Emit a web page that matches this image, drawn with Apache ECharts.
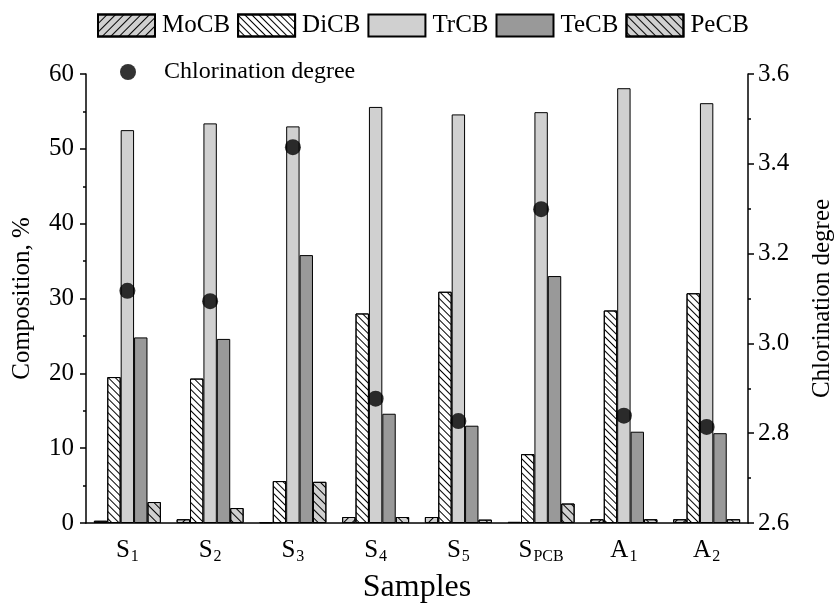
<!DOCTYPE html>
<html>
<head>
<meta charset="utf-8">
<script src="https://cdn.jsdelivr.net/npm/echarts@6/dist/echarts.min.js"></script>
<style>
  html, body { margin: 0; padding: 0; background: #fff; }
  #main { width: 836px; height: 607px; }
</style>
</head>
<body>
<div id="main"></div>
<script>
// samples and measured composition (%)
var samples = ['S1', 'S2', 'S3', 'S4', 'S5', 'SPCB', 'A1', 'A2'];
var sampleLabels = ['{m|S}{s|1}', '{m|S}{s|2}', '{m|S}{s|3}', '{m|S}{s|4}', '{m|S}{s|5}', '{m|S}{s|PCB}', '{m|A}{s|1}', '{m|A}{s|2}'];
var moCB = [0.3, 0.5, 0.1, 0.8, 0.8, 0.15, 0.5, 0.5];
var diCB = [19.5, 19.3, 5.6, 28.0, 30.9, 9.2, 28.4, 30.7];
var trCB = [52.5, 53.4, 53.0, 55.6, 54.6, 54.9, 58.1, 56.1];
var teCB = [24.8, 24.6, 35.8, 14.6, 13.0, 33.0, 12.2, 12.0];
var peCB = [2.8, 2.0, 5.5, 0.8, 0.45, 2.6, 0.5, 0.5];
// chlorination degree (right axis)
var chlorination = [3.117, 3.094, 3.437, 2.877, 2.827, 3.299, 2.839, 2.814];

var serif = 'Liberation Serif';
var myChart = echarts.init(document.getElementById('main'));

function hatch(rot, gap) {
	return {
		symbol : 'rect',
		symbolSize : 1,
		dashArrayX : [ 1, 0 ],
		dashArrayY : [ 1, gap ],
		rotation : rot,
		color : '#000'
	};
}

function barSeries(name, data, color, decal) {
	var s = {
		name : name,
		type : 'bar',
		data : data,
		barWidth : 13.4,
		barGap : '0%',
		itemStyle : {
			color : color,
			borderColor : '#000',
			borderWidth : 1
		}
	};
	if (decal) s.itemStyle.decal = decal;
	return s;
}

myChart.setOption({
	animation : false,
	textStyle : { fontFamily : serif, color : '#000' },
	legend : [ {
		data : [ 'MoCB', 'DiCB', 'TrCB', 'TeCB', 'PeCB' ],
		icon : 'rect',
		left : 97,
		top : 13,
		padding : 0,
		itemWidth : 57,
		itemHeight : 22,
		itemGap : 7,
		textStyle : { fontFamily : serif, fontSize : 25, color : '#000', padding : [ 0, 0, 0, 2 ] }
	}, {
		data : [ 'Chlorination degree' ],
		icon : 'circle',
		left : 120,
		top : 60,
		padding : 0,
		itemWidth : 16,
		itemHeight : 16,
		textStyle : { fontFamily : serif, fontSize : 24, color : '#000', padding : [ 0, 0, 0, 23 ] }
	} ],
	grid : {
		left : 86,
		right : 88,
		top : 74,
		bottom : 84,
		outerBoundsMode : 'none'
	},
	xAxis : [ {
		type : 'category',
		data : samples,
		boundaryGap : true,
		axisLine : { lineStyle : { color : '#000', width : 1.5 } },
		axisTick : { length : 5, interval : 0, lineStyle : { color : '#000', width : 1.5 } },
		axisLabel : { show : false },
		name : 'Samples',
		nameLocation : 'middle',
		nameGap : 49,
		nameTextStyle : { fontFamily : serif, fontSize : 32, color : '#000' }
	}, {
		type : 'category',
		data : sampleLabels,
		position : 'bottom',
		boundaryGap : true,
		axisLine : { show : false },
		axisTick : { alignWithLabel : true, interval : 0, length : 8, lineStyle : { color : '#000', width : 1.5 } },
		axisLabel : {
			interval : 0,
			margin : 12,
			rich : {
				m : { fontFamily : serif, fontSize : 25, color : '#000', lineHeight : 30 },
				s : { fontFamily : serif, fontSize : 16, color : '#000', lineHeight : 30, padding : [ 14, 0, 0, 1 ] }
			}
		}
	} ],
	yAxis : [ {
		type : 'value',
		min : 0,
		max : 60,
		interval : 10,
		axisLine : { show : true, lineStyle : { color : '#000', width : 1.5 } },
		axisTick : { show : true, length : 6, lineStyle : { color : '#000', width : 1.5 } },
		minorTick : { show : true, splitNumber : 2, length : 3, lineStyle : { color : '#000', width : 1.5 } },
		splitLine : { show : false },
		axisLabel : { fontFamily : serif, fontSize : 25, color : '#000', margin : 12 },
		name : 'Composition, %',
		nameLocation : 'middle',
		nameRotate : 90,
		nameGap : 51,
		nameTextStyle : { fontFamily : serif, fontSize : 25, color : '#000' }
	}, {
		type : 'value',
		position : 'right',
		min : 2.6,
		max : 3.6,
		interval : 0.2,
		axisLine : { show : true, lineStyle : { color : '#000', width : 1.5 } },
		axisTick : { show : true, length : 6, lineStyle : { color : '#000', width : 1.5 } },
		minorTick : { show : true, splitNumber : 2, length : 3, lineStyle : { color : '#000', width : 1.5 } },
		splitLine : { show : false },
		axisLabel : {
			fontFamily : serif, fontSize : 25, color : '#000', margin : 10,
			formatter : function(v) { return v.toFixed(1); }
		},
		name : 'Chlorination degree',
		nameLocation : 'middle',
		nameRotate : 90,
		nameGap : 62,
		nameTextStyle : { fontFamily : serif, fontSize : 25, color : '#000' }
	} ],
	series : [
		barSeries('MoCB', moCB, '#d0d0d0', hatch(-Math.PI / 4, 5)),
		barSeries('DiCB', diCB, '#ffffff', hatch(Math.PI / 4, 4)),
		barSeries('TrCB', trCB, '#d0d0d0'),
		barSeries('TeCB', teCB, '#999999'),
		barSeries('PeCB', peCB, '#d0d0d0', hatch(Math.PI / 4, 5)),
		{
			name : 'Chlorination degree',
			type : 'scatter',
			yAxisIndex : 1,
			data : chlorination,
			symbol : 'circle',
			symbolSize : 16,
			itemStyle : { color : '#000' },
			z : 5
		}
	]
});
</script>
</body>
</html>
